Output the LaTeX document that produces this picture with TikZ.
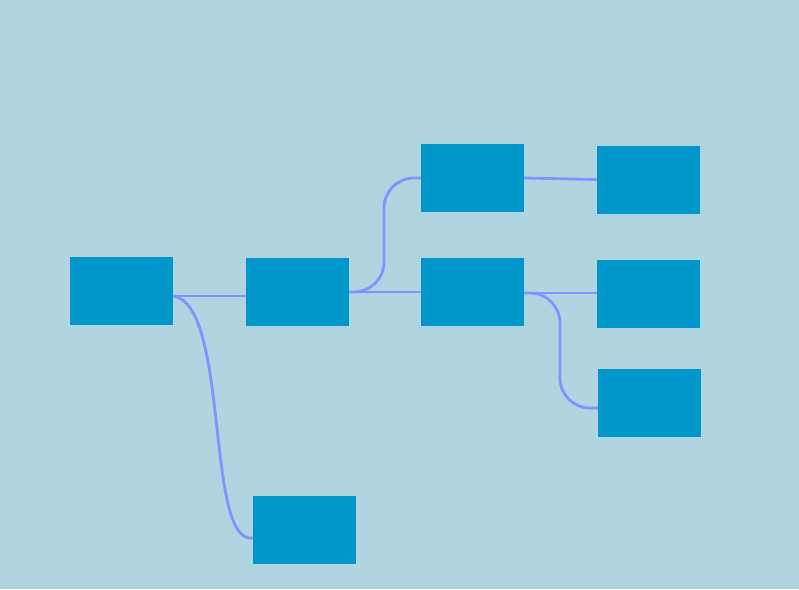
\documentclass[tikz,border=0pt]{standalone}
\usetikzlibrary{calc}
\definecolor{bgc}{RGB}{176,212,224}
\definecolor{boxc}{RGB}{0,152,202}
\definecolor{linkc}{RGB}{132,146,255}
\begin{document}
\begin{tikzpicture}[x=1pt,y=-1pt,
  box/.style={rectangle,fill=boxc,draw=none,minimum width=103pt,minimum height=68pt,inner sep=0pt},
  link/.style={draw=linkc,line width=2.8pt}]
\fill[bgc] (0,0) rectangle (799,589);
\useasboundingbox (0,0) rectangle (799,589);
\node[box] (r) at (121.5,290.5) {};
\node[box] (b) at (297.5,292) {};
\node[box] (c) at (472.5,178) {};
\node[box] (d) at (472.5,292) {};
\node[box] (e) at (648.5,179.5) {};
\node[box] (f) at (648.5,294) {};
\node[box] (g) at (649.5,403) {};
\node[box] (h) at (304.5,530) {};
\coordinate (rs) at ([yshift=-5.5pt]r.east);
\coordinate (bs) at ([yshift=-4pt]b.west);
\coordinate (hs) at ([yshift=-8pt]h.west);
\coordinate (gs) at ([yshift=-5pt]g.west);
\coordinate (ds) at ([yshift=-1pt]d.east);
\coordinate (bcm) at (384,235);
\coordinate (dgm) at (560,350);
\draw[link] (rs) -- (bs);
\draw[link] (rs) .. controls (230,305) and (205,545) .. (hs);
\draw[link] (b.east) -- (d.west);
\draw[link,rounded corners=30pt] (b.east) -| (bcm) |- (c.west);
\draw[link] (c.east) -- (e.west);
\draw[link] (ds) -- ([yshift=1pt]f.west);
\draw[link,rounded corners=30pt] (ds) -| (dgm) |- (gs);
\end{tikzpicture}
\end{document}
